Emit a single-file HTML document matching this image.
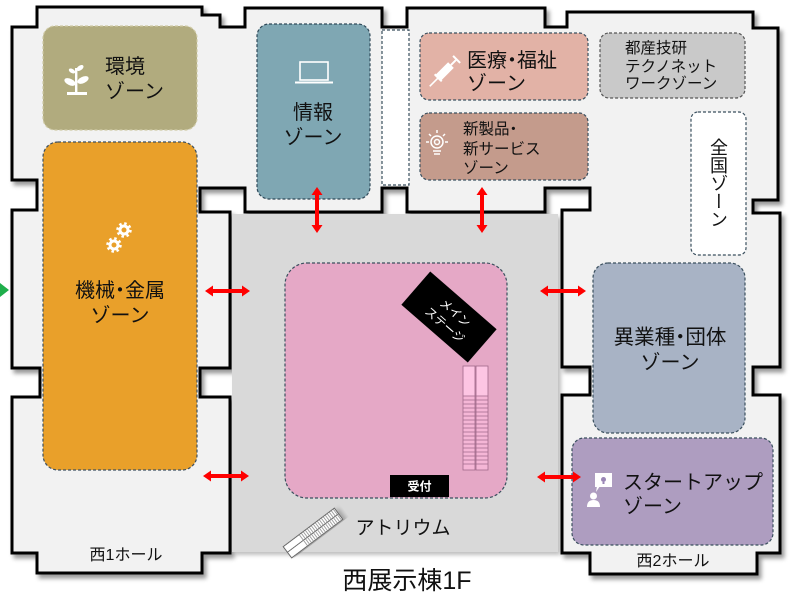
<!DOCTYPE html>
<html><head><meta charset="utf-8">
<style>
html,body{margin:0;padding:0;background:#fff;}
body{width:809px;height:602px;position:relative;overflow:hidden;font-family:"Liberation Sans","Noto Sans CJK JP",sans-serif;}
svg{position:absolute;left:0;top:0;}
svg text{font-family:"Liberation Sans","Noto Sans CJK JP",sans-serif;fill:#111;}
svg text.p{font-feature-settings:"palt";}
.v{position:absolute;left:706px;top:138px;width:24px;height:100px;writing-mode:vertical-rl;text-orientation:mixed;font-size:18px;line-height:24px;color:#111;font-family:"Liberation Sans","Noto Sans CJK JP",sans-serif;}
</style></head><body>
<svg width="809" height="602" viewBox="0 0 809 602">
<defs>
<filter id="sh" x="-5%" y="-5%" width="115%" height="115%"><feDropShadow dx="3" dy="4" stdDeviation="2" flood-color="#000" flood-opacity="0.4"/></filter>
<filter id="sh2" x="-5%" y="-5%" width="115%" height="115%"><feDropShadow dx="3" dy="3" stdDeviation="2" flood-color="#000" flood-opacity="0.25"/></filter>
</defs>

<!-- hall outline -->
<polygon filter="url(#sh)" fill="#f2f2f2" stroke="#000" stroke-width="3" stroke-linejoin="miter"
points="12,27 37,27 37,7 202,7 202,15 220,15 220,27 245,27 245,8 382,8 382,27 407,27 407,8 545,8 545,27 567,27 567,12 753,12 753,28 778,28 778,200 753,200 753,213 780,213 780,367 753,367 753,395 780,395 780,553 757,553 757,574 590,574 590,553 562,553 562,395 590,395 590,367 562,367 562,210 590,210 590,188 545,188 545,212 407,212 407,188 382,188 382,212 245,212 245,188 200,188 200,212 230,212 230,368 200,368 200,397 230,397 230,553 202,553 202,573 37,573 37,553 12,553 12,397 40,397 40,368 12,368 12,210 37,210 37,180 12,180"/>

<!-- atrium -->
<rect x="232" y="214" width="326" height="338" fill="#d9d9d9" filter="url(#sh2)"/>

<!-- passage -->
<rect x="382" y="30" width="27" height="155" fill="#fff" stroke="#3a4f5e" stroke-width="1.2" stroke-dasharray="3,2"/>

<!-- zones -->
<rect x="43" y="26" width="154" height="104" rx="12" fill="#b1ab7e" stroke="#cfcaa6" stroke-width="1.2" stroke-dasharray="3,2"/>
<rect x="43" y="142" width="154" height="328" rx="15" fill="#e9a02a" stroke="#3d5060" stroke-width="1.2" stroke-dasharray="3,2"/>
<rect x="257" y="24" width="113" height="175" rx="12" fill="#7fa7b3" stroke="#2f4858" stroke-width="1.2" stroke-dasharray="3,2"/>
<rect x="420" y="33" width="168" height="67" rx="9" fill="#e2b2a6" stroke="#3a4f5e" stroke-width="1.2" stroke-dasharray="3,2"/>
<rect x="420" y="113" width="168" height="67" rx="9" fill="#c49b8c" stroke="#3a4f5e" stroke-width="1.2" stroke-dasharray="3,2"/>
<rect x="600" y="33" width="145" height="65" rx="9" fill="#c9c9c9" stroke="#555" stroke-width="1.2" stroke-dasharray="3,2"/>
<rect x="691" y="112" width="55" height="143" rx="7" fill="#fff" stroke="#3a4f5e" stroke-width="1.2" stroke-dasharray="3,2"/>
<rect x="593" y="263" width="152" height="170" rx="15" fill="#a8b3c5" stroke="#3a4f5e" stroke-width="1.2" stroke-dasharray="3,2"/>
<rect x="572" y="438" width="201" height="107" rx="12" fill="#ae9dc0" stroke="#3a4f5e" stroke-width="1.2" stroke-dasharray="3,2"/>
<rect x="285" y="263" width="222" height="235" rx="22" fill="#e5a8c6" stroke="#3a4f5e" stroke-width="1.2" stroke-dasharray="3,2"/>

<!-- main stage -->
<g transform="translate(449,317) rotate(41)">
<rect x="-44" y="-22" width="88" height="44" fill="#000"/>
<text x="2" y="-3" font-size="12" text-anchor="middle" style="fill:#fff">メイン</text>
<text x="2" y="13" font-size="12" text-anchor="middle" style="fill:#fff">ステージ</text>
</g>

<!-- seats -->
<g stroke="#a06a8a" stroke-width="0.8">
<rect x="463" y="366" width="12" height="104" fill="#f5b6d6"/>
<rect x="476" y="366" width="12" height="104" fill="#f5b6d6"/>
<rect x="463.5" y="366.5" width="11" height="29" fill="#fdc5e3" stroke="none"/>
<rect x="476.5" y="366.5" width="11" height="29" fill="#fdc5e3" stroke="none"/>
<path d="M463 396H488M463 400H488M463 404H488M463 408H488M463 412H488M463 416H488M463 420H488M463 424H488M463 428H488M463 432H488M463 436H488M463 440H488M463 444H488M463 448H488M463 452H488M463 456H488M463 460H488M463 464H488"/>
</g>

<!-- reception -->
<rect x="390" y="475" width="59" height="22" fill="#000"/>
<text x="419.5" y="490.5" font-size="12" font-weight="bold" text-anchor="middle" style="fill:#fff">受付</text>

<!-- escalator -->
<g transform="translate(313,533) rotate(-37)" filter="url(#sh2)">
<rect x="-32" y="-7" width="64" height="14" fill="#fff" stroke="#666" stroke-width="1"/>
<line x1="-32" y1="0" x2="32" y2="0" stroke="#666" stroke-width="1"/>
<path d="M-12 -7V7M-9.5 -7V7M-7 -7V7M-4.5 -7V7M-2 -7V7M0.5 -7V7M3 -7V7M5.5 -7V7M8 -7V7M10.5 -7V7M13 -7V7M15.5 -7V7M18 -7V7M20.5 -7V7M23 -7V7M25.5 -7V7M28 -7V7M30.5 -7V7" stroke="#888" stroke-width="0.8"/>
</g>

<!-- red arrows -->
<g fill="#ff0000">
<polygon points="205,291 213,285.5 213,289 242,289 242,285.5 250,291 242,296.5 242,293 213,293 213,296.5"/>
<polygon points="203,476 211,470.5 211,474 241,474 241,470.5 249,476 241,481.5 241,478 211,478 211,481.5"/>
<polygon points="540,291 548,285.5 548,289 578,289 578,285.5 586,291 578,296.5 578,293 548,293 548,296.5"/>
<polygon points="537,477 545,471.5 545,475 573,475 573,471.5 581,477 573,482.5 573,479 545,479 545,482.5"/>
<polygon points="317,187 322.5,195 319,195 319,225 322.5,225 317,233 311.5,225 315,225 315,195 311.5,195"/>
<polygon points="482,187 487.5,195 484,195 484,225 487.5,225 482,233 476.5,225 480,225 480,195 476.5,195"/>
</g>
<!-- green triangle -->
<polygon points="0,283 9,290 0,297" fill="#1fae4b"/>

<!-- icons -->
<g fill="#fff">
<rect x="67" y="92" width="20" height="3"/>
<rect x="75" y="68" width="2.4" height="25"/>
<ellipse cx="70" cy="82" rx="6" ry="3.2" transform="rotate(25 70 82)"/>
<ellipse cx="83" cy="80" rx="6" ry="3.2" transform="rotate(-25 83 80)"/>
<ellipse cx="80" cy="68" rx="4" ry="2.3" transform="rotate(-35 80 68)"/>
<ellipse cx="72" cy="71" rx="3.5" ry="2" transform="rotate(30 72 71)"/>
</g>
<g fill="none" stroke="#fff">
<circle cx="124" cy="230" r="4" stroke-width="3"/>
<circle cx="124" cy="230" r="6.5" stroke-width="2.5" stroke-dasharray="2.5,2.6"/>
<circle cx="114" cy="245" r="4" stroke-width="3"/>
<circle cx="114" cy="245" r="6.5" stroke-width="2.5" stroke-dasharray="2.5,2.6"/>
</g>
<rect x="300" y="62" width="28" height="18" fill="none" stroke="#fff" stroke-width="1.6"/>
<line x1="295" y1="82.5" x2="333" y2="82.5" stroke="#fff" stroke-width="2"/>
<g transform="translate(446,70) rotate(-45)" fill="#fff">
<rect x="-23" y="-0.8" width="12" height="1.6"/>
<rect x="-12" y="-4" width="19" height="8"/>
<rect x="7" y="-1" width="7" height="2"/>
<rect x="14" y="-5" width="2" height="10"/>
<rect x="-12" y="-5" width="2" height="10"/>
</g>
<g stroke="#fff" fill="none" stroke-width="1.5">
<circle cx="437" cy="142" r="6"/>
<circle cx="437" cy="142" r="2.5"/>
<line x1="433" y1="151" x2="441" y2="151"/>
<line x1="434" y1="154" x2="440" y2="154"/>
<line x1="437" y1="130" x2="437" y2="133"/>
<line x1="426" y1="142" x2="429" y2="142"/>
<line x1="445" y1="142" x2="448" y2="142"/>
<line x1="429" y1="134" x2="431" y2="136"/>
<line x1="445" y1="134" x2="443" y2="136"/>
</g>
<g fill="#fff">
<rect x="595" y="473" width="17" height="14"/>
<polygon points="597,486 600,486 596,492"/>
<circle cx="593.5" cy="496" r="3.5"/>
<path d="M587 507 Q587 500 593.5 500 Q600 500 600 507 Z"/>
</g>
<circle cx="603.5" cy="479.5" r="2.5" fill="#9a86b6"/>
<rect x="602.5" y="482" width="2" height="2" fill="#9a86b6"/>

<!-- labels -->
<text x="105" y="73" font-size="20">環境</text>
<text x="105" y="98" font-size="20">ゾーン</text>
<text class="p" x="120" y="297" font-size="20" text-anchor="middle">機械・金属</text>
<text x="120" y="322" font-size="20" text-anchor="middle">ゾーン</text>
<text x="313" y="119" font-size="20" text-anchor="middle">情報</text>
<text x="313" y="144" font-size="20" text-anchor="middle">ゾーン</text>
<text class="p" x="467" y="67" font-size="20">医療・福祉</text>
<text x="467" y="90" font-size="20">ゾーン</text>
<text class="p" x="463" y="134" font-size="15.5">新製品・</text>
<text x="463" y="154" font-size="15.5">新サービス</text>
<text x="463" y="173" font-size="15.5">ゾーン</text>
<text x="625" y="53" font-size="15.5">都産技研</text>
<text x="625" y="71.5" font-size="15.5">テクノネット</text>
<text x="625" y="88.5" font-size="15.5">ワークゾーン</text>
<text class="p" x="670" y="344" font-size="20.5" text-anchor="middle">異業種・団体</text>
<text x="670" y="369" font-size="20" text-anchor="middle">ゾーン</text>
<text x="623" y="489" font-size="20">スタートアップ</text>
<text x="623" y="513" font-size="20">ゾーン</text>
<text x="126" y="560" font-size="16" text-anchor="middle">西1ホール</text>
<text x="673" y="566" font-size="16" text-anchor="middle">西2ホール</text>
<text x="403" y="534" font-size="19" text-anchor="middle">アトリウム</text>
<text x="407" y="589" font-size="25" text-anchor="middle">西展示棟1F</text>
</svg>
<div class="v">全国ゾーン</div>
</body></html>
